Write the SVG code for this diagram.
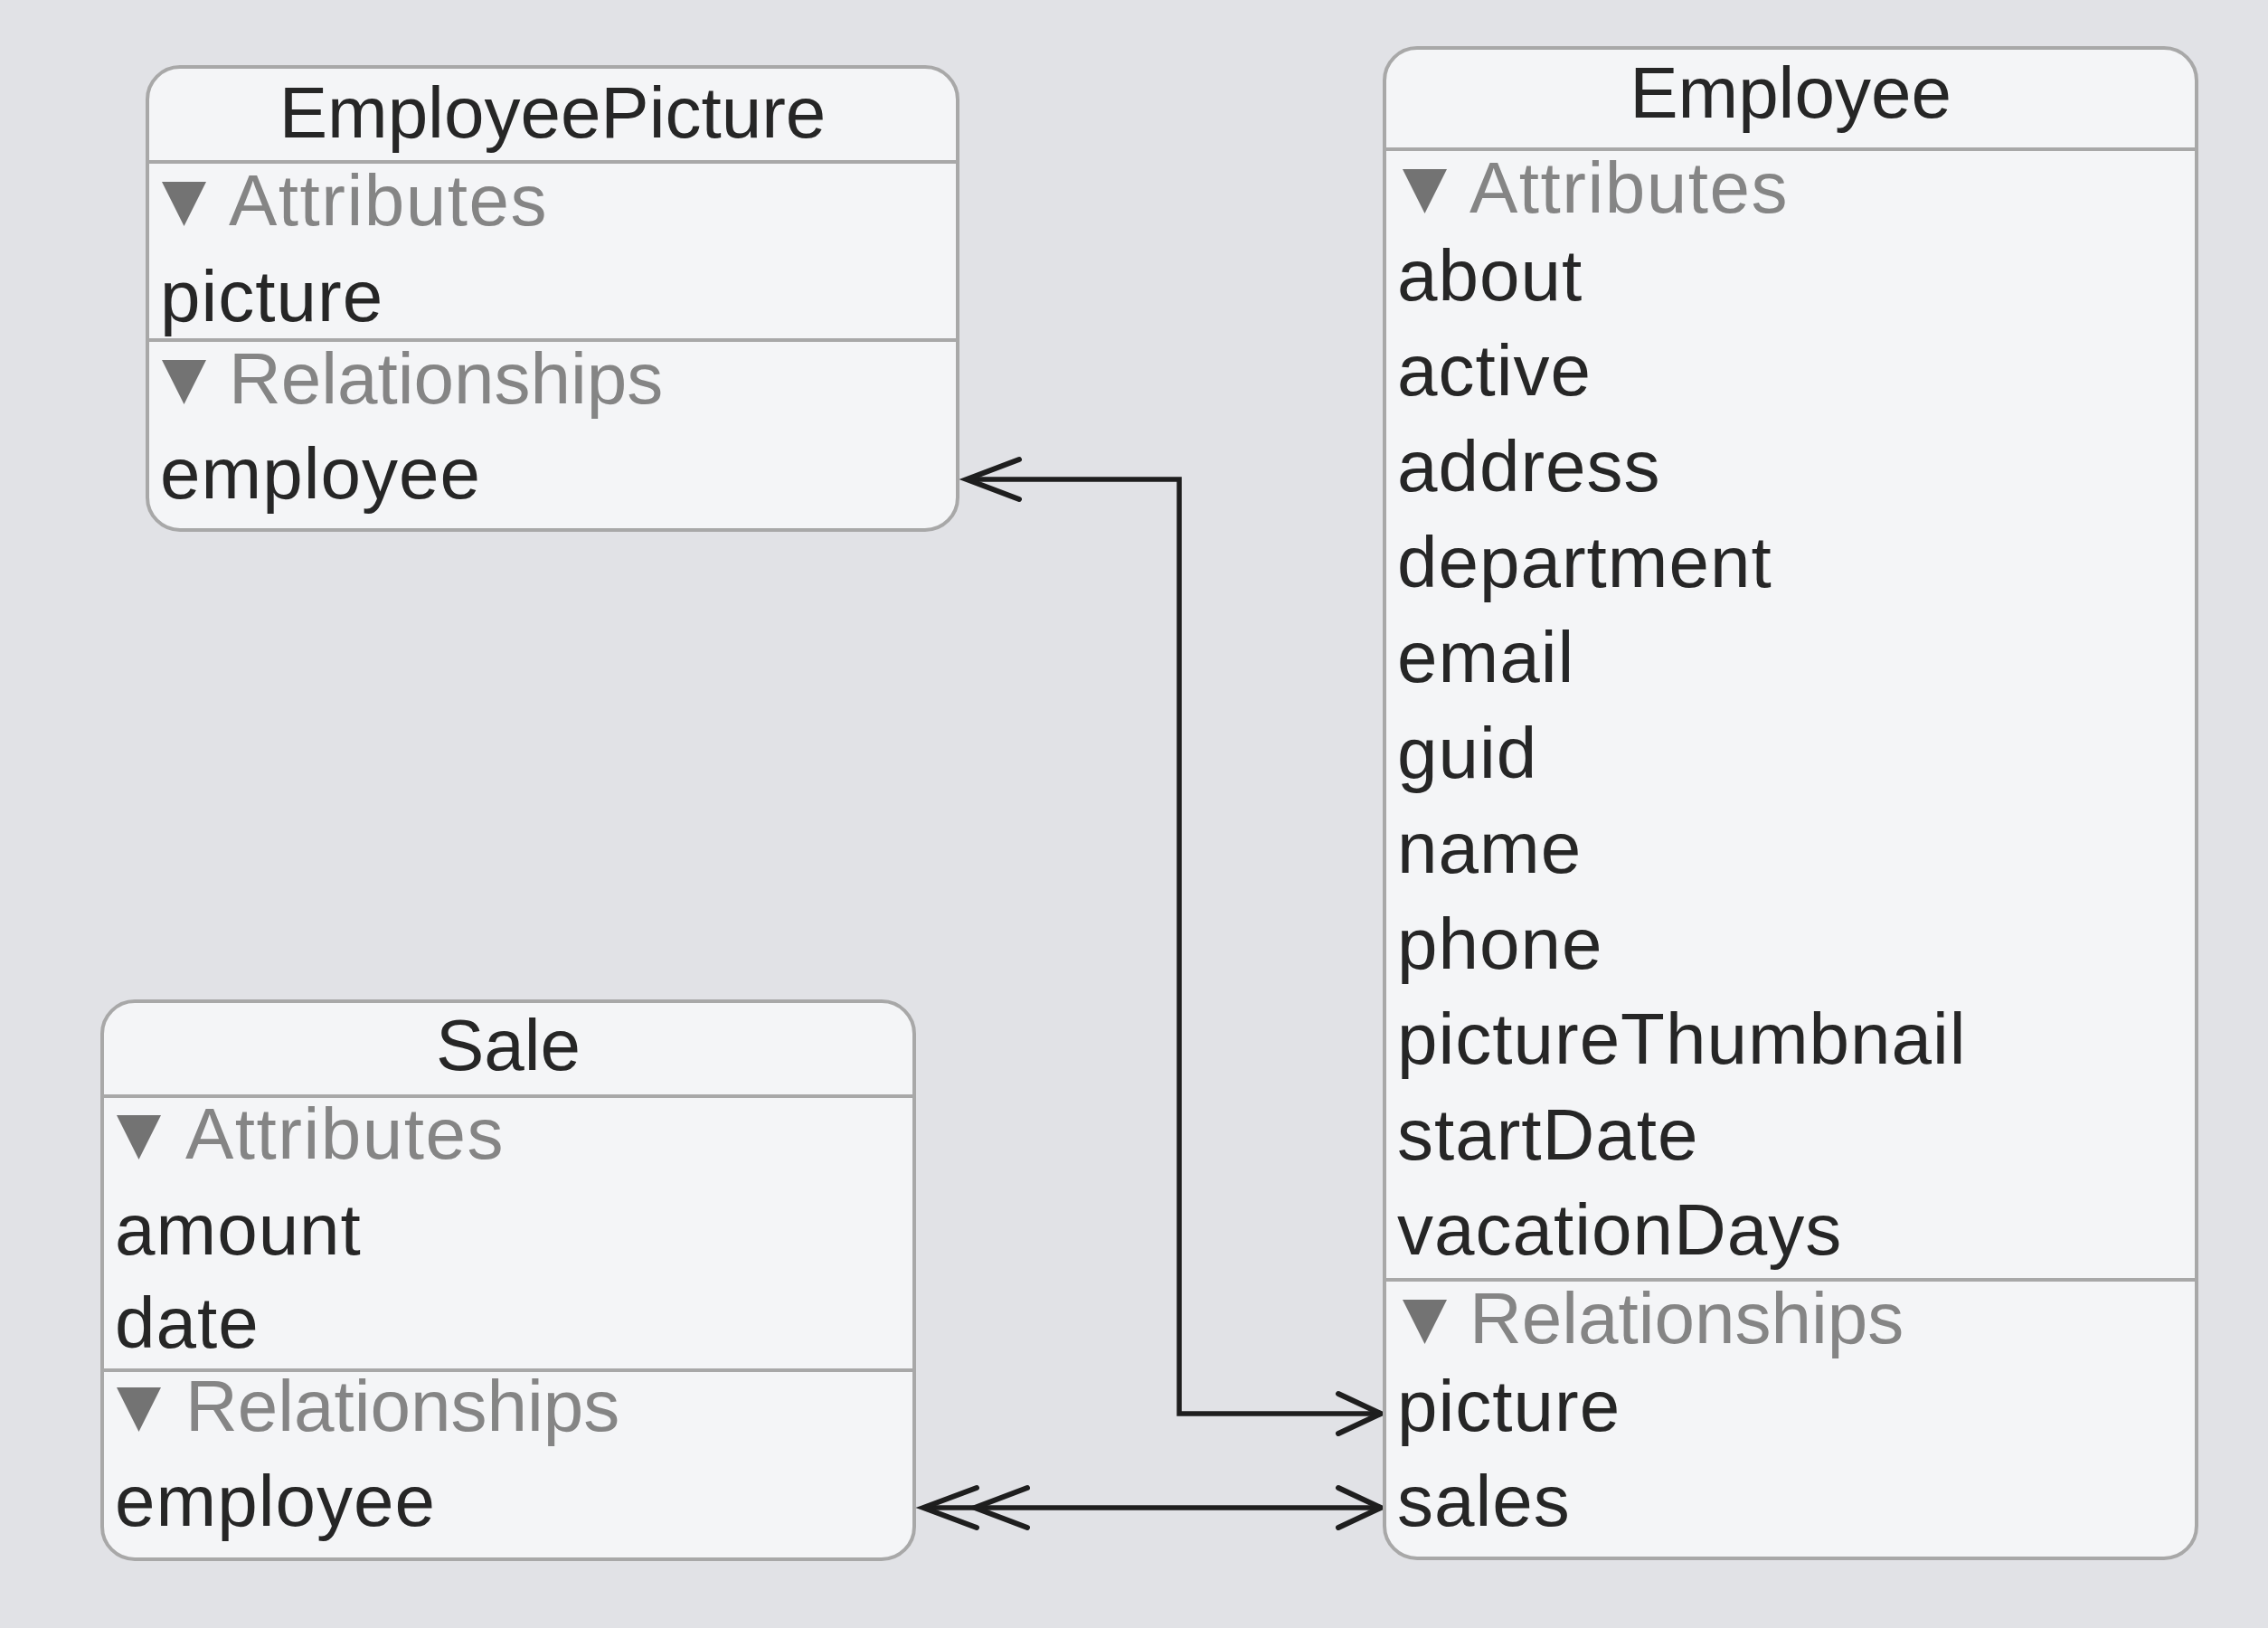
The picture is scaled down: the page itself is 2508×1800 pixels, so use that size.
<svg xmlns="http://www.w3.org/2000/svg" width="2508" height="1800" viewBox="0 0 2508 1800">
<style>
.box{fill:#f4f5f7;stroke:#a8a8a8;stroke-width:4}
.div{stroke:#a8a8a8;stroke-width:4}
.title{font-family:"Liberation Sans",Arial,sans-serif;font-size:80px;fill:#262626;text-anchor:middle}
.sec{font-family:"Liberation Sans",Arial,sans-serif;font-size:80px;fill:#858585}
.item{font-family:"Liberation Sans",Arial,sans-serif;font-size:80px;fill:#262626;letter-spacing:1px}
.tri{fill:#737373}
.conn{fill:none;stroke:#1e1e1e;stroke-width:5.5;stroke-linejoin:miter}
.head{fill:none;stroke:#1e1e1e;stroke-width:6;stroke-linecap:round;stroke-linejoin:miter}
</style>
<defs>
<path id="tri" d="M0,0 L49,0 L24.5,49 Z"/>
</defs>
<rect x="0" y="0" width="2508" height="1800" fill="#e1e2e6"/>

<g id="connectors">
<path class="conn" d="M1071,530 L1304,530 L1304,1563 L1524,1563"/>
<path class="head" d="M1127,508 L1069,530 L1127,552"/>
<path class="head" d="M1480,1541 L1527,1563 L1480,1585"/>
<path class="conn" d="M1023,1667 L1524,1667"/>
<path class="head" d="M1080,1645 L1021,1667 L1080,1689"/>
<path class="head" d="M1136,1645 L1078,1667 L1136,1689"/>
<path class="head" d="M1480,1645 L1527,1667 L1480,1689"/>
</g>

<g id="EmployeePicture">
<rect class="box" x="163" y="74" width="896" height="512" rx="36" ry="36"/>
<text class="title" x="611" y="152">EmployeePicture</text>
<line class="div" x1="163" y1="179" x2="1059" y2="179"/>
<use href="#tri" class="tri" x="179" y="201"/>
<text class="sec" x="253" y="249" letter-spacing="1.5">Attributes</text>
<text class="item" x="177" y="355">picture</text>
<line class="div" x1="163" y1="376" x2="1059" y2="376"/>
<use href="#tri" class="tri" x="179" y="398"/>
<text class="sec" x="253" y="446">Relationships</text>
<text class="item" x="177" y="551">employee</text>
</g>

<g id="Employee">
<rect class="box" x="1531" y="53" width="898" height="1670" rx="36" ry="36"/>
<text class="title" x="1980" y="130">Employee</text>
<line class="div" x1="1531" y1="165" x2="2429" y2="165"/>
<use href="#tri" class="tri" x="1551" y="187"/>
<text class="sec" x="1625" y="235" letter-spacing="1.5">Attributes</text>
<text class="item" x="1545" y="332">about</text>
<text class="item" x="1545" y="437">active</text>
<text class="item" x="1545" y="543">address</text>
<text class="item" x="1545" y="649">department</text>
<text class="item" x="1545" y="754">email</text>
<text class="item" x="1545" y="860">guid</text>
<text class="item" x="1545" y="965">name</text>
<text class="item" x="1545" y="1071">phone</text>
<text class="item" x="1545" y="1176">pictureThumbnail</text>
<text class="item" x="1545" y="1282">startDate</text>
<text class="item" x="1545" y="1387">vacationDays</text>
<line class="div" x1="1531" y1="1415" x2="2429" y2="1415"/>
<use href="#tri" class="tri" x="1551" y="1437"/>
<text class="sec" x="1625" y="1485">Relationships</text>
<text class="item" x="1545" y="1582">picture</text>
<text class="item" x="1545" y="1687">sales</text>
</g>

<g id="Sale">
<rect class="box" x="113" y="1107" width="898" height="617" rx="36" ry="36"/>
<text class="title" x="562" y="1183">Sale</text>
<line class="div" x1="113" y1="1212" x2="1011" y2="1212"/>
<use href="#tri" class="tri" x="129" y="1233"/>
<text class="sec" x="205" y="1281" letter-spacing="1.5">Attributes</text>
<text class="item" x="127" y="1387">amount</text>
<text class="item" x="127" y="1490">date</text>
<line class="div" x1="113" y1="1515" x2="1011" y2="1515"/>
<use href="#tri" class="tri" x="129" y="1534"/>
<text class="sec" x="205" y="1582">Relationships</text>
<text class="item" x="127" y="1687">employee</text>
</g>
</svg>
